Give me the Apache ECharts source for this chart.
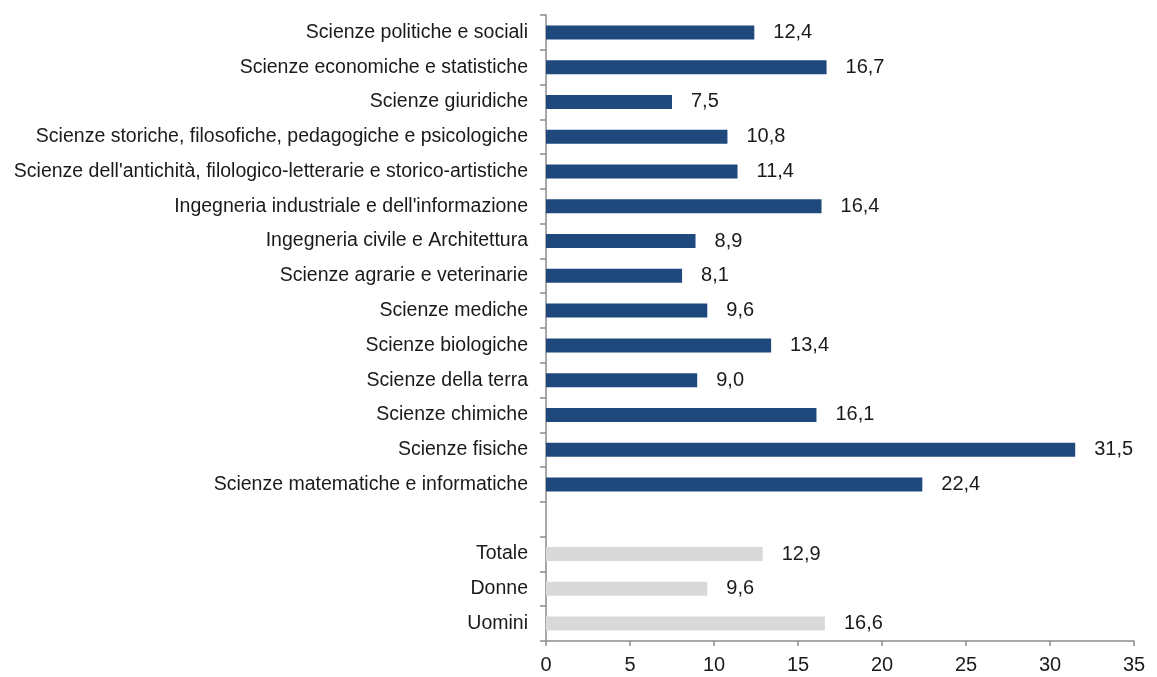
<!DOCTYPE html>
<html>
<head>
<meta charset="utf-8">
<script src="https://cdn.jsdelivr.net/npm/echarts@6/dist/echarts.min.js"></script>
<style>
  * { margin: 0; padding: 0; }
  html, body { background: #fff; }
  #main { width: 1157px; height: 677px; }
</style>
</head>
<body>
<div id="main"></div>
<script>
// aree disciplinari (dall'alto in basso)
var fieldNames = [
  'Scienze politiche e sociali',
  'Scienze economiche e statistiche',
  'Scienze giuridiche',
  'Scienze storiche, filosofiche, pedagogiche e psicologiche',
  "Scienze dell'antichità, filologico-letterarie e storico-artistiche",
  "Ingegneria industriale e dell'informazione",
  'Ingegneria civile e Architettura',
  'Scienze agrarie e veterinarie',
  'Scienze mediche',
  'Scienze biologiche',
  'Scienze della terra',
  'Scienze chimiche',
  'Scienze fisiche',
  'Scienze matematiche e informatiche'
];
var fieldValues = [12.4, 16.7, 7.5, 10.8, 11.4, 16.4, 8.9, 8.1, 9.6, 13.4, 9.0, 16.1, 31.5, 22.4];

var totalNames = ['Totale', 'Donne', 'Uomini'];
var totalValues = [12.9, 9.6, 16.6];

var xTicks = [0, 5, 10, 15, 20, 25, 30, 35];

var blu = '#1F497D';
var grigio = '#D9D9D9';

// riga vuota tra le aree e i totali
var categories = fieldNames.concat([''], totalNames);
var seriesData = [];
fieldValues.forEach(function (v) {
  seriesData.push({ value: v, itemStyle: { color: blu } });
});
seriesData.push({ value: null });
totalValues.forEach(function (v) {
  seriesData.push({ value: v, itemStyle: { color: grigio } });
});

var chart = echarts.init(document.getElementById('main'));
chart.setOption({
  animation: false,
  textStyle: { fontFamily: 'Liberation Sans, Arial, sans-serif' },
  grid: { left: 546, right: 23, top: 15, bottom: 36 },
  xAxis: {
    type: 'value',
    min: xTicks[0],
    max: xTicks[xTicks.length - 1],
    interval: 5,
    splitLine: { show: false },
    axisLine: { show: true, lineStyle: { color: '#8C8C8C', width: 1.5 } },
    axisTick: { show: true, length: 5, lineStyle: { color: '#8C8C8C', width: 1.5 } },
    axisLabel: { color: '#1a1a1a', fontSize: 20, margin: 14 }
  },
  yAxis: {
    type: 'category',
    inverse: true,
    data: categories,
    axisLine: { show: true, lineStyle: { color: '#8C8C8C', width: 1.5 } },
    axisTick: { show: true, length: 6, lineStyle: { color: '#8C8C8C', width: 1.5 } },
    axisLabel: { color: '#1a1a1a', fontSize: 19.5, margin: 18, padding: [3, 0, 0, 0] }
  },
  series: [{
    type: 'bar',
    barWidth: 14,
    data: seriesData,
    label: {
      show: true,
      position: 'right',
      distance: 19,
      color: '#1a1a1a',
      fontSize: 20,
      padding: [3, 0, 0, 0],
      formatter: function (p) {
        return p.value == null ? '' : p.value.toFixed(1).replace('.', ',');
      }
    }
  }]
});
</script>
</body>
</html>
